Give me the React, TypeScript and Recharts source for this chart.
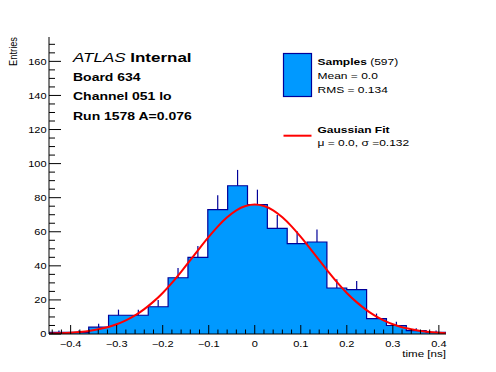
import React from 'react';
import { ComposedChart, Area, Line, Scatter, ErrorBar, XAxis, YAxis } from 'recharts';

// ---- data ----
const xMin = -0.447;
const xMax = 0.4155;
const binCounts = [1, 1, 4, 11, 11, 16, 33, 45, 73, 87, 76, 62, 53, 54, 27, 26, 9, 5, 2, 1];
const binErrors = [1, 1, 2, 3.3, 3.3, 4, 5.7, 6.7, 8.5, 9.3, 8.7, 7.9, 7.3, 7.4, 5.2, 5.1, 3, 2.2, 1.4, 1];
const fitTime = [-0.446, -0.44, -0.42, -0.4, -0.38, -0.36, -0.34, -0.32, -0.3, -0.28, -0.26, -0.24, -0.22, -0.2, -0.18, -0.16, -0.14, -0.12, -0.1, -0.08, -0.06, -0.04, -0.02, 0, 0.02, 0.04, 0.06, 0.08, 0.1, 0.12, 0.14, 0.16, 0.18, 0.2, 0.22, 0.24, 0.26, 0.28, 0.3, 0.32, 0.34, 0.36, 0.38, 0.4, 0.415];
const fitValue = [0.2, 0.3, 0.5, 0.8, 1.2, 1.8, 2.8, 4.0, 5.7, 8.0, 10.9, 14.6, 19.0, 24.1, 30.0, 36.5, 43.3, 50.3, 57.0, 63.2, 68.5, 72.6, 75.1, 76.0, 75.1, 72.6, 68.5, 63.2, 57.0, 50.3, 43.3, 36.5, 30.0, 24.1, 19.0, 14.6, 10.9, 8.0, 5.7, 4.0, 2.8, 1.8, 1.2, 0.8, 0.5];
const yMax = 174.3;
const yMajorTicks = [0, 20, 40, 60, 80, 100, 120, 140, 160];
const xMajorTicks = [-0.4, -0.3, -0.2, -0.1, 0, 0.1, 0.2, 0.3, 0.4];
const xTickLabels = ['\u22120.4', '\u22120.3', '\u22120.2', '\u22120.1', '0', '0.1', '0.2', '0.3', '0.4'];

// ---- derived tables ----
const nBins = binCounts.length;
const binWidth = (xMax - xMin) / nBins;
const areaData = Array.from({ length: nBins + 1 }, (_, i) => ({
  x: xMin + i * binWidth,
  y: binCounts[Math.min(i, nBins - 1)],
}));
const errData = binCounts.map((c, i) => ({
  x: xMin + (i + 0.5) * binWidth,
  y: c,
  err: [0, binErrors[i]],
}));
const fitData = fitTime.map((x, i) => ({ x, y: fitValue[i] }));

const yTicks: number[] = [];
for (let v = 0; v <= 170; v += 5) yTicks.push(v);
const xTicks: number[] = [];
for (let k = -22; k <= 20; k++) xTicks.push(Math.round(k * 2) / 100);

const FONT = '"Liberation Sans", Arial, Helvetica, sans-serif';
const S = 0.8; // vertical squash of glyphs seen in the reference
const BLUE = '#0099ff';
const DARK = '#000099';

const YTick = (props: any) => {
  const { x, y, payload } = props;
  const v = payload.value;
  const major = yMajorTicks.includes(v);
  const x0 = x + 3;
  return (
    <g>
      <line x1={x0} x2={x0 + (major ? 12 : 6)} y1={y} y2={y} stroke="#000" strokeWidth={1} />
      {major && (
        <text transform={`translate(${x0 - 2.5},${y + 3.4}) scale(1,${S})`} textAnchor="end" fontSize={11} fontFamily={FONT} fill="#000">
          {v}
        </text>
      )}
    </g>
  );
};

const XTick = (props: any) => {
  const { x, y, payload } = props;
  const v = payload.value;
  const idx = xMajorTicks.findIndex((m) => Math.abs(m - v) < 1e-6);
  const major = idx >= 0;
  const y0 = y - 3;
  return (
    <g>
      <line x1={x} x2={x} y1={y0} y2={y0 - (major ? 9 : 4.5)} stroke="#000" strokeWidth={1} />
      {major && (
        <text transform={`translate(${x},${y0 + 12.7}) scale(1,${S})`} textAnchor="middle" fontSize={11} fontFamily={FONT} fill="#000">
          {xTickLabels[idx]}
        </text>
      )}
    </g>
  );
};

const T = ({ x, y, size, anchor, weight, children }: any) => (
  <text
    transform={`translate(${x},${y}) scale(1,${S})`}
    fontSize={size}
    textAnchor={anchor || 'start'}
    fontWeight={weight || 'normal'}
    fontFamily={FONT}
    fill="#000"
  >
    {children}
  </text>
);

export default function App() {
  return (
    <div style={{ position: 'absolute', left: 0, top: 0, width: 496, height: 372, background: '#fff' }}>
      <ComposedChart width={496} height={372} margin={{ top: 37, right: 50, bottom: 0, left: 0 }}>
        <XAxis
          dataKey="x"
          type="number"
          domain={[xMin, xMax]}
          allowDataOverflow
          ticks={xTicks}
          interval={0}
          tickSize={0}
          tickMargin={3}
          tick={(p: any) => <XTick {...p} />}
          tickLine={false}
          axisLine={{ stroke: '#000', strokeWidth: 1 }}
          height={38}
        />
        <XAxis
          xAxisId="top"
          orientation="top"
          type="number"
          domain={[xMin, xMax]}
          tick={false}
          tickLine={false}
          axisLine={{ stroke: '#000', strokeWidth: 1 }}
          height={0}
        />
        <YAxis
          dataKey="y"
          type="number"
          domain={[0, yMax]}
          allowDataOverflow
          ticks={yTicks}
          interval={0}
          tickSize={0}
          tickMargin={3}
          tick={(p: any) => <YTick {...p} />}
          tickLine={false}
          axisLine={{ stroke: '#000', strokeWidth: 1 }}
          width={49}
        />
        <YAxis
          yAxisId="right"
          orientation="right"
          type="number"
          domain={[0, yMax]}
          tick={false}
          tickLine={false}
          axisLine={{ stroke: '#000', strokeWidth: 1 }}
          width={0}
        />
        <Area
          data={areaData}
          dataKey="y"
          type="stepAfter"
          fill={BLUE}
          fillOpacity={1}
          stroke={DARK}
          strokeWidth={1.2}
          isAnimationActive={false}
          dot={false}
          activeDot={false}
        />
        <Scatter data={errData} dataKey="y" shape={() => <g />} isAnimationActive={false}>
          <ErrorBar dataKey="err" direction="y" width={0} stroke={DARK} strokeWidth={1.2} isAnimationActive={false} />
        </Scatter>
        <Line
          data={fitData}
          dataKey="y"
          type="monotone"
          stroke="#ff0000"
          strokeWidth={2}
          dot={false}
          activeDot={false}
          isAnimationActive={false}
        />
      </ComposedChart>
      <svg width={496} height={372} style={{ position: 'absolute', left: 0, top: 0, pointerEvents: 'none' }}>
        <text
          transform={`translate(16.5,37) rotate(-90) scale(${S},1)`}
          fontSize={11.6}
          textAnchor="end"
          fontFamily={FONT}
          fill="#000"
        >
          Entries
        </text>
        <T x={446} y={357.3} size={11.6} anchor="end">time [ns]</T>

        <text transform={`translate(73,62.3) scale(1,${S})`} fontSize={17} fontFamily={FONT} fill="#000">
          <tspan fontStyle="italic">ATLAS</tspan>
          <tspan fontWeight="bold"> Internal</tspan>
        </text>
        <T x={73} y={80.5} size={14} weight="bold">Board 634</T>
        <T x={73} y={100} size={14} weight="bold">Channel 051 lo</T>
        <T x={73} y={119.5} size={14} weight="bold">Run 1578 A=0.076</T>

        <rect x={283.5} y={53.5} width={28} height={43} fill={BLUE} stroke={DARK} strokeWidth={1.2} />
        <text transform={`translate(317.5,65) scale(1,${S})`} fontSize={12} fontFamily={FONT} fill="#000">
          <tspan fontWeight="bold">Samples</tspan>
          <tspan> (597)</tspan>
        </text>
        <T x={317.5} y={79.3} size={12}>Mean = 0.0</T>
        <T x={317.5} y={93.3} size={12}>RMS = 0.134</T>

        <line x1={283.5} x2={311.5} y1={135.7} y2={135.7} stroke="#ff0000" strokeWidth={2} />
        <T x={317.5} y={132.7} size={12} weight="bold">Gaussian Fit</T>
        <T x={317.5} y={145.5} size={12}>{'\u03bc = 0.0, \u03c3 =0.132'}</T>
      </svg>
    </div>
  );
}
